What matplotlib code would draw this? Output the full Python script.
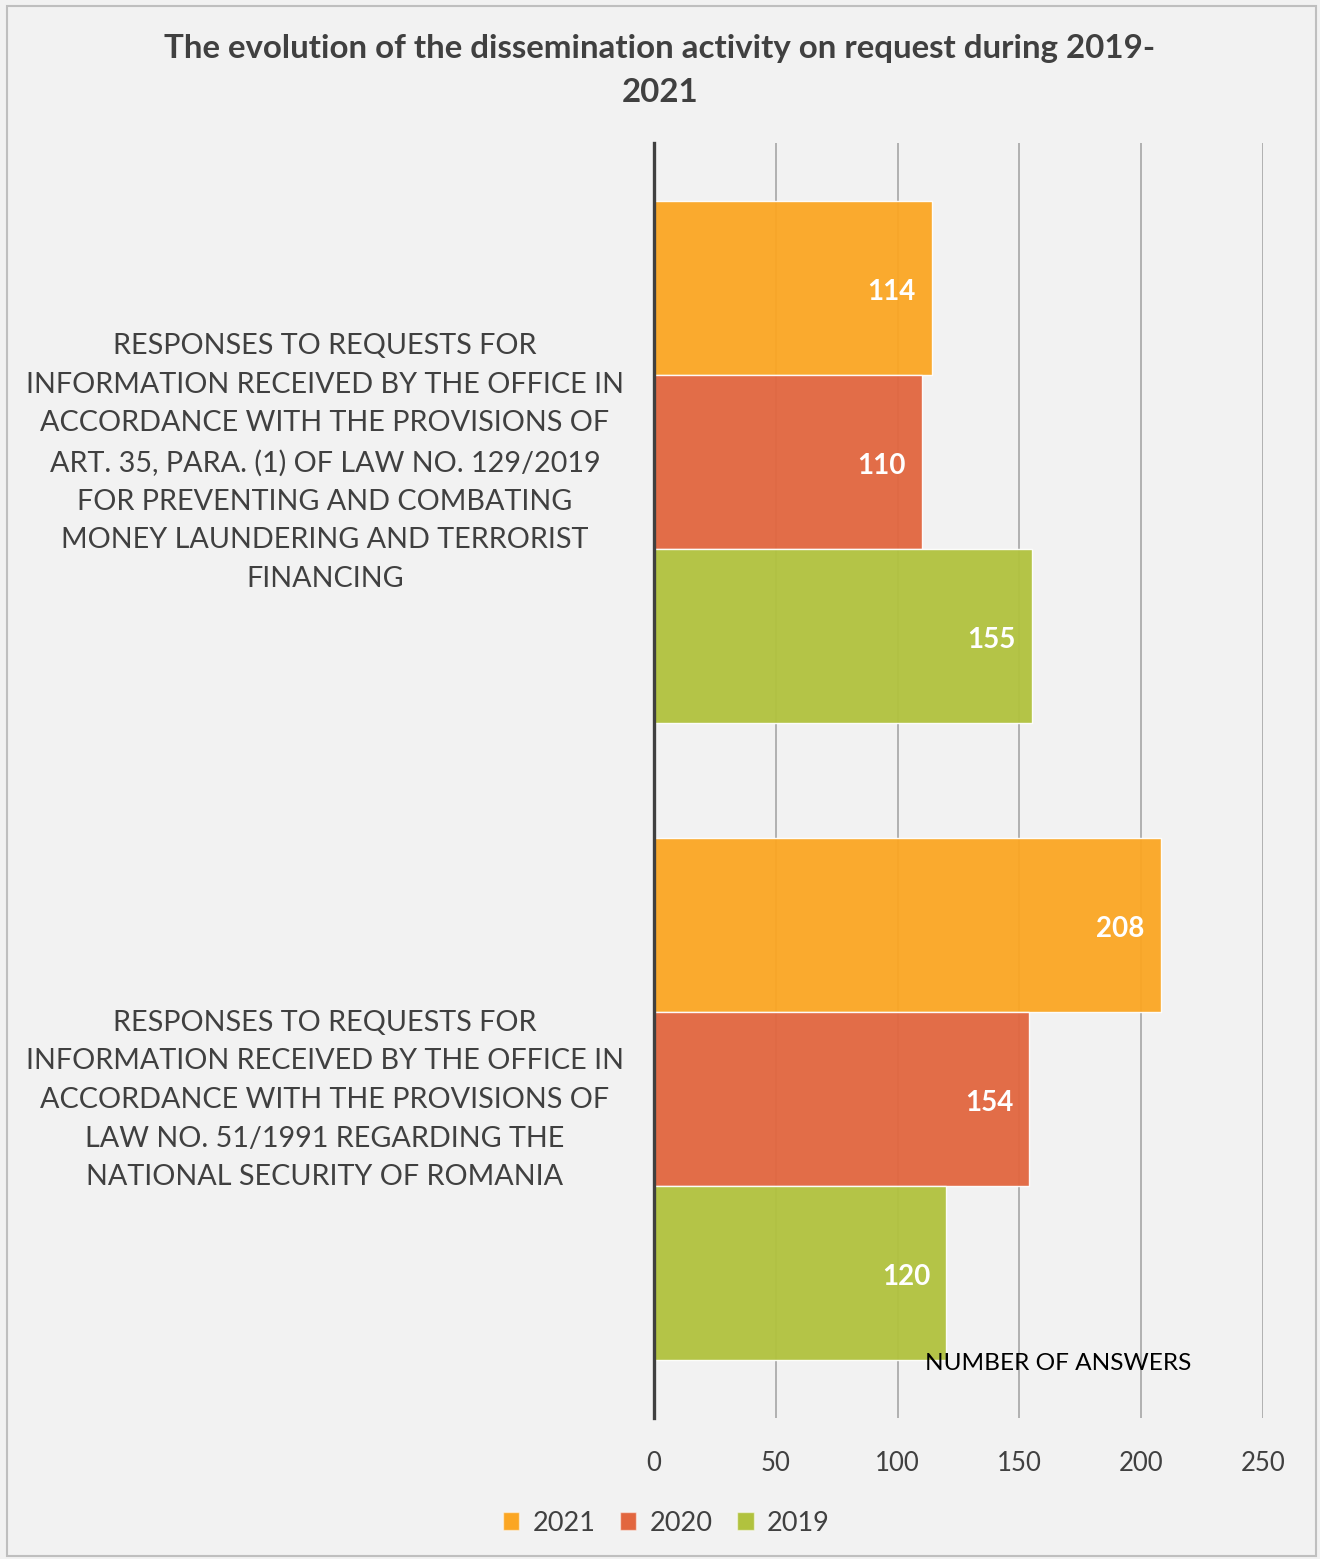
import matplotlib.pyplot as plt
import matplotlib.patches as mpatches
import matplotlib.transforms as mtransforms
import numpy as np

# chart data
categories = [
    "RESPONSES TO REQUESTS FOR\nINFORMATION RECEIVED BY THE OFFICE IN\nACCORDANCE WITH THE PROVISIONS OF\nART. 35, PARA. (1) OF LAW NO. 129/2019\nFOR PREVENTING AND COMBATING\nMONEY LAUNDERING AND TERRORIST\nFINANCING",
    "RESPONSES TO REQUESTS FOR\nINFORMATION RECEIVED BY THE OFFICE IN\nACCORDANCE WITH THE PROVISIONS OF\nLAW NO. 51/1991 REGARDING THE\nNATIONAL SECURITY OF ROMANIA",
]
years = ["2021", "2020", "2019"]
values_2021 = [114, 208]
values_2020 = [110, 154]
values_2019 = [155, 120]
colors = ["#FBA623", "#E2663F", "#B1C23E"]
x_ticks = [0, 50, 100, 150, 200, 250]

plt.rcParams['font.family'] = ['Lato', 'DejaVu Sans']
bg = "#F2F2F2"
text_col = "#404040"

fig = plt.figure(figsize=(13.2, 15.59), dpi=100, facecolor=bg)
ax = fig.add_axes([0.4955, 0.0904, 0.4613, 0.8179])
ax.set_facecolor(bg)

y = np.arange(len(categories))
h = 0.273
series = [values_2021, values_2020, values_2019]
for k, (yr, vals, c) in enumerate(zip(years, series, colors)):
    pos = y + (k - 1) * h
    bars = ax.barh(pos, vals, height=h, color=c, alpha=0.95,
                   edgecolor=(1, 1, 1, 0.5), linewidth=1, label=yr, zorder=3)
    for b, v in zip(bars, vals):
        ax.annotate(str(v), (v, b.get_y() + b.get_height() / 2),
                    xytext=(-16, -4), textcoords='offset pixels',
                    ha='right', va='center', color='white',
                    fontsize=20, fontweight='bold', zorder=4)

ax.set_ylim(1.5, -0.5)
ax.set_xlim(0, 250)
ax.set_xticks(x_ticks)
ax.set_xticklabels([str(t) for t in x_ticks], fontsize=18.5, color=text_col)
ax.tick_params(axis='x', length=0, pad=24)
ax.grid(axis='x', color='#A6A6A6', linewidth=1.2, zorder=0)

ax.set_yticks(y)
ax.set_yticklabels(categories, fontsize=20.7, color=text_col,
                   ha='center', multialignment='center', linespacing=1.6)
ax.tick_params(axis='y', length=0, pad=237)
# nudge the category labels up a little
lift = mtransforms.ScaledTranslation(0, 0.08, fig.dpi_scale_trans)
for lbl in ax.get_yticklabels():
    lbl.set_transform(lbl.get_transform() + lift)

for s in ['top', 'right', 'bottom']:
    ax.spines[s].set_visible(False)
ax.spines['left'].set_color(text_col)
ax.spines['left'].set_linewidth(2.4)
ax.spines['left'].set_zorder(5)

ax.text(0.445, 0.043, "NUMBER OF ANSWERS", transform=ax.transAxes,
        fontsize=17.6, color='black', ha='left', va='center', zorder=6)

fig.text(0.5, 0.978, "The evolution of the dissemination activity on request during 2019-\n2021",
         ha='center', va='top', fontsize=23.8, fontweight='bold', color=text_col,
         linespacing=1.62)

handles = [mpatches.Patch(facecolor=c, edgecolor=(1, 1, 1, 0.5), label=yr)
           for yr, c in zip(years, colors)]
fig.legend(handles=handles, loc='center', bbox_to_anchor=(0.505, 0.023),
           ncol=3, frameon=False, fontsize=19.5, handlelength=0.6,
           handleheight=0.6, handletextpad=0.5, columnspacing=0.9,
           labelcolor=text_col)

fig.patches.append(mpatches.Rectangle((0.005, 0.002), 0.992, 0.994,
                                      transform=fig.transFigure, fill=False,
                                      edgecolor='#BFBFBF', linewidth=1.5))

fig.savefig("out.png", dpi=100, facecolor=bg)
